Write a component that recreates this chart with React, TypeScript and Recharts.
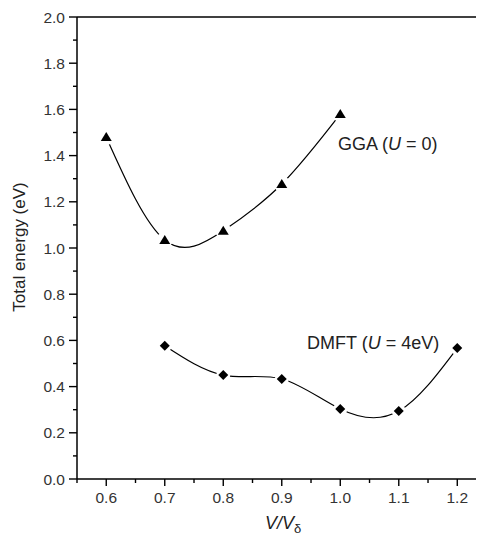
import { LineChart, Line, XAxis, YAxis, ReferenceLine } from 'recharts'

// GGA (U = 0) and DMFT (U = 4eV) total energies vs V/Vδ
const ggaVolume = [0.6, 0.7, 0.8, 0.9, 1.0]
const ggaEnergy = [1.48, 1.035, 1.075, 1.277, 1.58]
const dmftVolume = [0.7, 0.8, 0.9, 1.0, 1.1, 1.2]
const dmftEnergy = [0.577, 0.45, 0.433, 0.303, 0.294, 0.567]

const xTicks = [0.55, 0.6, 0.65, 0.7, 0.75, 0.8, 0.85, 0.9, 0.95, 1.0, 1.05, 1.1, 1.15, 1.2]
const yTicks = [0, 0.1, 0.2, 0.3, 0.4, 0.5, 0.6, 0.7, 0.8, 0.9, 1.0, 1.1, 1.2, 1.3, 1.4, 1.5, 1.6, 1.7, 1.8, 1.9, 2.0]

const ggaData = ggaVolume.map((v, i) => ({ v, e: ggaEnergy[i] }))
const dmftData = dmftVolume.map((v, i) => ({ v, e: dmftEnergy[i] }))

const FONT = '"Liberation Sans", Arial, Helvetica, sans-serif'
const isMajor = (val: number) => Math.abs(val * 10 - Math.round(val * 10)) < 1e-6

function XTick({ x, y, payload }: any) {
  const major = isMajor(payload.value)
  return (
    <g>
      <line x1={x} x2={x} y1={y} y2={y + (major ? 7 : 4)} stroke="#000" strokeWidth={1.4} />
      {major && (
        <text x={x} y={y + 24} textAnchor="middle" fontSize={15.5} fill="#333" fontFamily={FONT}>
          {payload.value.toFixed(1)}
        </text>
      )}
    </g>
  )
}

function YTick({ x, y, payload }: any) {
  const major = isMajor(payload.value * 0.5)
  return (
    <g>
      <line x1={x - (major ? 8 : 4)} x2={x} y1={y} y2={y} stroke="#000" strokeWidth={1.4} />
      {major && (
        <text x={x - 12} y={y + 5.5} textAnchor="end" fontSize={15.5} fill="#333" fontFamily={FONT}>
          {payload.value.toFixed(1)}
        </text>
      )}
    </g>
  )
}

function Triangle({ cx, cy }: any) {
  if (cx == null || cy == null) return null
  return (
    <g>
      <circle cx={cx} cy={cy} r={8} fill="#fff" />
      <path d={`M${cx},${cy - 5} L${cx + 5.5},${cy + 4} L${cx - 5.5},${cy + 4} Z`} fill="#000" />
    </g>
  )
}

function Diamond({ cx, cy }: any) {
  if (cx == null || cy == null) return null
  return (
    <g>
      <circle cx={cx} cy={cy} r={7} fill="#fff" />
      <path d={`M${cx},${cy - 5} L${cx + 5},${cy} L${cx},${cy + 5} L${cx - 5},${cy} Z`} fill="#000" />
    </g>
  )
}

export default function App() {
  return (
    <div style={{ position: 'absolute', left: 0, top: 0, background: '#fff' }}>
      <LineChart width={477} height={538} margin={{ top: 17, right: 1, bottom: 0, left: 0 }}>
        <XAxis
          type="number"
          dataKey="v"
          domain={[0.55, 1.232]}
          ticks={xTicks}
          allowDataOverflow
          height={59}
          tickSize={0}
          tickMargin={0}
          tickLine={false}
          tick={<XTick />}
          axisLine={{ stroke: '#000', strokeWidth: 1.5 }}
        />
        <YAxis
          type="number"
          domain={[0, 2]}
          ticks={yTicks}
          width={77}
          tickSize={0}
          tickMargin={0}
          tickLine={false}
          tick={<YTick />}
          axisLine={{ stroke: '#000', strokeWidth: 1.5 }}
        />
        <ReferenceLine y={2} stroke="#000" strokeWidth={1.5} />
        <Line
          data={ggaData}
          dataKey="e"
          type="natural"
          stroke="#000"
          strokeWidth={1.2}
          dot={<Triangle />}
          activeDot={false}
          isAnimationActive={false}
        />
        <Line
          data={dmftData}
          dataKey="e"
          type="natural"
          stroke="#000"
          strokeWidth={1.2}
          dot={<Diamond />}
          activeDot={false}
          isAnimationActive={false}
        />
        <text x={338} y={150} fontSize={18} fill="#222" fontFamily={FONT}>
          GGA (<tspan fontStyle="italic">U</tspan> = 0)
        </text>
        <text x={307} y={349} fontSize={18} fill="#222" fontFamily={FONT}>
          DMFT (<tspan fontStyle="italic">U</tspan> = 4eV)
        </text>
        <text x={265} y={529} fontSize={18} fill="#222" fontFamily={FONT}>
          <tspan fontStyle="italic">V/V</tspan>
          <tspan fontSize={13} dy={4}>δ</tspan>
        </text>
        <text
          x={19}
          y={247}
          transform="rotate(-90 19 247)"
          textAnchor="middle"
          dominantBaseline="central"
          fontSize={17}
          fill="#222"
          fontFamily={FONT}
        >
          Total energy (eV)
        </text>
      </LineChart>
    </div>
  )
}
